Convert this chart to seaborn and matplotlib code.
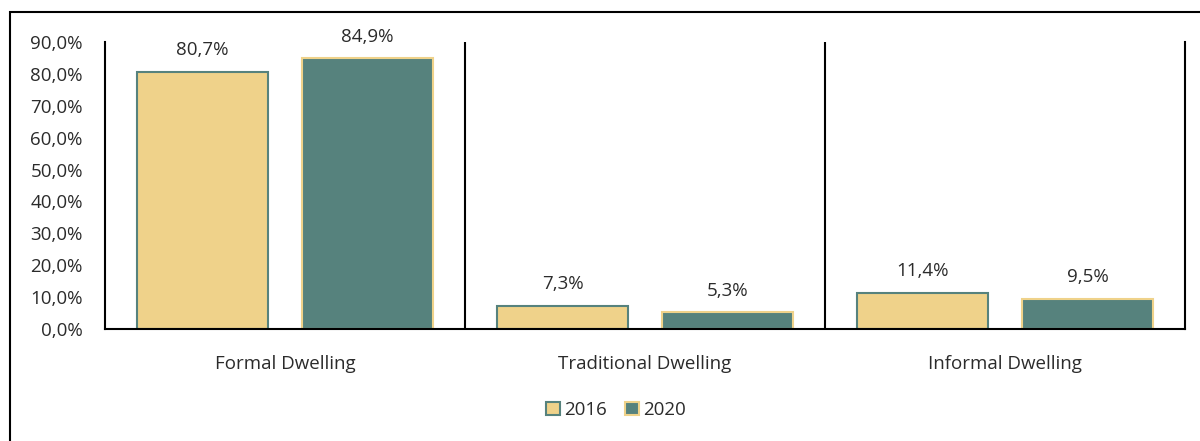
import matplotlib
matplotlib.use("Agg")
import matplotlib.pyplot as plt
from matplotlib.patches import Rectangle, Patch
from matplotlib.ticker import FuncFormatter
import seaborn as sns
import pandas as pd

categories = ["Formal Dwelling", "Traditional Dwelling", "Informal Dwelling"]
years = ["2016", "2020"]
share_2016 = [80.7, 7.3, 11.4]
share_2020 = [84.9, 5.3, 9.5]
y_ticks = [0, 10, 20, 30, 40, 50, 60, 70, 80, 90]

gold = "#EFD28A"
teal = "#56827D"
text_col = "#2b2b2b"
fs = 13.5

df = pd.DataFrame({
    "category": categories * 2,
    "year": [years[0]] * 3 + [years[1]] * 3,
    "share": share_2016 + share_2020,
})

sns.set_theme(style="white")
plt.rcParams["font.family"] = ["Open Sans", "DejaVu Sans"]

fig = plt.figure(figsize=(12, 4.41), dpi=100)
ax = fig.add_axes([105 / 1200, 112 / 441, 1080 / 1200, 287 / 441])

sns.barplot(data=df, x="category", y="share", hue="year", order=categories,
            hue_order=years, palette=[gold, teal], width=0.917, gap=0.21,
            saturation=1, legend=False, ax=ax)

edge_map = {0: teal, 1: gold}
for i, cont in enumerate(ax.containers):
    for bar in cont:
        bar.set_edgecolor(edge_map[i])
        bar.set_linewidth(1.5)
    vals = share_2016 if i == 0 else share_2020
    ax.bar_label(cont, labels=[f"{v:.1f}%".replace(".", ",") for v in vals],
                 padding=9, fontsize=fs, color=text_col)

ax.set_xlim(-0.5, 2.5)
ax.set_ylim(0, 90)
ax.set_yticks(y_ticks)
ax.yaxis.set_major_formatter(FuncFormatter(lambda v, _: f"{v:.1f}%".replace(".", ",")))
ax.tick_params(axis="y", length=0, pad=16, labelsize=fs, colors=text_col)
ax.tick_params(axis="x", length=0, pad=19, labelsize=fs, colors=text_col)
ax.set_xlabel("")
ax.set_ylabel("")

for s in ["left", "right", "bottom"]:
    ax.spines[s].set_visible(True)
    ax.spines[s].set_color("black")
    ax.spines[s].set_linewidth(1.5)
ax.spines["top"].set_visible(False)
for xpos in [0.5, 1.5]:
    ax.axvline(xpos, color="black", linewidth=1.5)

handles = [Patch(facecolor=gold, edgecolor=teal, linewidth=1.5, label=years[0]),
           Patch(facecolor=teal, edgecolor=gold, linewidth=1.5, label=years[1])]
fig.legend(handles=handles, loc="center", bbox_to_anchor=(616 / 1200, 1 - 410 / 441),
           ncol=2, frameon=False, fontsize=fs, handlelength=0.75, handleheight=0.75,
           handletextpad=0.2, columnspacing=1.0, labelcolor=text_col)

fig.patches.append(Rectangle((10 / 1200, -0.1), 1.2, (441 - 12) / 441 + 0.1,
                             transform=fig.transFigure, fill=False,
                             edgecolor="black", linewidth=1.5))

fig.savefig("out.png", dpi=100)
